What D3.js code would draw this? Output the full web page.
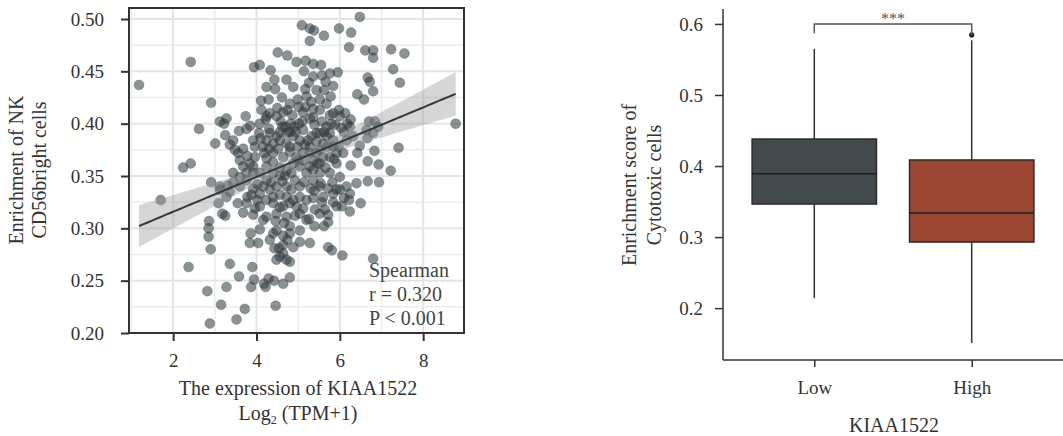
<!DOCTYPE html>
<html>
<head>
<meta charset="utf-8">
<script src="https://cdn.jsdelivr.net/npm/d3@7"></script>
<style>
  html, body { margin: 0; padding: 0; background: #fff; }
  svg { display: block; font-family: "Liberation Serif", "Times New Roman", serif; }
</style>
</head>
<body>
<svg id="chart" width="1063" height="436"></svg>
<script>
// ---- Scatter: KIAA1522 expression vs NK CD56bright enrichment ----
const scatterPoints = [
  [1.18,0.437],[1.70,0.327],[2.42,0.459],[2.62,0.395],[2.24,0.358],[2.42,0.362],[2.37,0.263],
  [2.91,0.420],[2.91,0.344],[3.01,0.381],[2.86,0.307],[2.85,0.300],[2.85,0.292],[2.90,0.280],
  [2.82,0.240],[2.88,0.209],[3.15,0.227],[3.36,0.266],[3.28,0.244],[3.52,0.213],[3.58,0.254],
  [3.72,0.223],[3.90,0.263],[3.87,0.244],[3.94,0.251],[4.18,0.247],[4.22,0.244],[4.29,0.252],
  [4.42,0.250],[4.64,0.247],[4.80,0.253],[4.46,0.226],[4.80,0.268],[4.64,0.276],[6.06,0.274],
  [6.80,0.271],[6.48,0.502],[5.09,0.494],[5.28,0.491],[5.38,0.489],[5.62,0.484],[5.98,0.491],
  [6.27,0.487],[5.28,0.479],[6.22,0.473],[6.61,0.470],[6.80,0.470],[6.80,0.463],[7.23,0.471],
  [7.55,0.467],[4.51,0.468],[4.74,0.465],[4.96,0.459],[5.18,0.460],[5.36,0.457],[5.55,0.456],
  [5.95,0.449],[7.28,0.452],[7.44,0.439],[3.94,0.454],[4.08,0.456],[4.34,0.451],[5.14,0.450],
  [4.43,0.442],[5.26,0.439],[5.57,0.446],[5.66,0.440],[4.24,0.435],[4.45,0.433],[5.17,0.433],
  [5.44,0.432],[5.62,0.432],[5.84,0.436],[6.67,0.444],[6.72,0.440],[6.80,0.431],[6.42,0.428],
  [6.58,0.423],[4.61,0.425],[5.78,0.426],[4.11,0.422],[4.29,0.423],[4.99,0.423],[5.31,0.421],
  [4.12,0.413],[4.50,0.415],[4.74,0.413],[4.86,0.408],[5.12,0.411],[5.36,0.414],[5.98,0.413],
  [6.13,0.410],[6.00,0.407],[4.24,0.407],[3.74,0.407],[3.12,0.402],[3.28,0.405],[3.22,0.400],
  [3.76,0.395],[3.58,0.393],[3.85,0.398],[4.22,0.404],[4.58,0.402],[4.70,0.397],[4.82,0.400],
  [4.91,0.397],[5.02,0.400],[5.12,0.394],[5.28,0.405],[5.39,0.399],[5.57,0.402],[5.68,0.397],
  [5.76,0.408],[5.89,0.399],[6.03,0.396],[6.18,0.400],[6.26,0.404],[6.70,0.402],[6.84,0.402],
  [6.92,0.397],[8.78,0.400],[7.41,0.377],[6.83,0.374],[6.93,0.361],[7.22,0.355],[6.94,0.344],
  [6.67,0.345],[6.66,0.386],[6.48,0.379],[6.42,0.372],[6.67,0.364],[6.26,0.360],[6.40,0.343],
  [6.50,0.324],[6.22,0.327],[6.24,0.316],[6.10,0.329],[6.00,0.337],[6.00,0.349],[5.82,0.344],
  [5.72,0.338],[5.54,0.343],[5.39,0.336],[5.84,0.325],[5.57,0.325],[5.36,0.329],[5.72,0.313],
  [5.72,0.306],[5.62,0.302],[5.39,0.302],[5.26,0.309],[5.12,0.319],[4.96,0.321],[5.04,0.314],
  [5.72,0.282],[5.81,0.279],[5.28,0.286],[5.04,0.287],[4.88,0.282],[4.74,0.289],[4.64,0.293],
  [4.48,0.298],[4.43,0.281],[4.54,0.281],[3.84,0.286],[4.04,0.286],[3.86,0.295],[4.46,0.307],
  [4.66,0.305],[4.80,0.302],[4.16,0.308],[4.24,0.311],[3.96,0.319],[4.02,0.327],[3.68,0.315],
  [3.18,0.314],[3.25,0.312],[3.09,0.324],[3.55,0.324],[3.78,0.330],[3.12,0.340],[3.31,0.341],
  [3.44,0.344],[3.36,0.335],[3.60,0.349],[3.76,0.346],[3.92,0.338],[4.08,0.333],[4.24,0.327],
  [4.32,0.337],[4.48,0.340],[4.56,0.332],[4.72,0.330],[4.84,0.337],[4.62,0.345],[4.24,0.346],
  [4.08,0.353],[3.92,0.359],[3.68,0.359],[3.60,0.365],[3.78,0.369],[3.96,0.368],[4.24,0.367],
  [4.40,0.363],[4.56,0.358],[4.72,0.355],[4.84,0.353],[5.04,0.359],[4.96,0.368],[4.80,0.373],
  [5.12,0.372],[5.28,0.378],[5.23,0.384],[5.44,0.383],[5.52,0.375],[5.60,0.368],[5.76,0.368],
  [5.52,0.362],[5.36,0.356],[5.76,0.353],[5.92,0.362],[5.84,0.378],[5.97,0.378],[6.08,0.372],
  [5.68,0.388],[5.84,0.384],[4.56,0.384],[4.40,0.381],[4.24,0.384],[4.16,0.378],[4.32,0.391],
  [4.06,0.391],[3.92,0.384],[3.44,0.384],[3.36,0.380],[3.25,0.389],[3.48,0.375],[3.68,0.376],
  [4.72,0.381],[4.88,0.388],[4.72,0.391],[4.56,0.392],[5.04,0.384],[4.80,0.378],[3.76,0.353],
  [3.60,0.340],[3.92,0.353],[4.40,0.353],[4.56,0.350],[5.04,0.340],[4.72,0.340],[4.80,0.324],
  [4.64,0.321],[4.48,0.314],[4.40,0.324],[4.08,0.321],[5.04,0.330],[5.20,0.327],[5.36,0.346],
  [5.52,0.353],[5.20,0.353],[5.52,0.391],[5.44,0.391],[5.76,0.391],[5.36,0.406],[5.52,0.413],
  [5.17,0.416],[5.01,0.416],[4.80,0.419],[4.64,0.411],[4.48,0.407],[4.32,0.410],[5.20,0.426],
  [5.52,0.423],[5.68,0.419],[5.84,0.410],[6.24,0.397],[6.32,0.388],[6.16,0.384],[6.80,0.391],
  [6.64,0.394],[4.72,0.442],[4.88,0.435],[5.36,0.445],[5.76,0.448],[5.00,0.365],[5.36,0.365],
  [5.52,0.340],[5.92,0.337],[6.16,0.340],[6.24,0.333],[3.12,0.337],[3.44,0.353],[3.28,0.330],
  [3.76,0.324],[3.92,0.313],[4.08,0.299],[4.40,0.295],[4.32,0.289],[4.80,0.295],[5.04,0.298],
  [5.20,0.308],[5.52,0.314],[5.64,0.318],[5.92,0.321],[6.05,0.321],[5.84,0.333],[4.72,0.270],
  [4.56,0.273],[4.48,0.270],[4.64,0.284],[4.80,0.392],[4.48,0.388],[4.40,0.372],[4.64,0.368],
  [5.12,0.365],[5.28,0.359],[5.60,0.381],[5.92,0.372],[4.16,0.340],[4.40,0.330],[4.88,0.327],
  [4.72,0.311],[3.84,0.362],[4.24,0.359],[4.88,0.362],[5.28,0.372],[5.44,0.372],[3.96,0.378],
  [4.08,0.400],[4.30,0.395],[4.62,0.397],[4.94,0.392],[5.10,0.402],[5.32,0.388],[5.62,0.392],
  [5.80,0.400],[4.18,0.372],[4.52,0.376],[4.98,0.378],[5.16,0.380],[5.46,0.362],[5.66,0.358],
  [5.86,0.366],[4.36,0.344],[4.68,0.350],[4.92,0.346],[5.14,0.344],[5.30,0.338],[4.02,0.342],
  [3.88,0.332],[4.56,0.320],[4.92,0.312],[5.40,0.318],[5.60,0.330],[4.30,0.376],[4.10,0.386],
  [5.70,0.378],[6.10,0.392],[3.56,0.372]
];
const scatterXTicks = [2, 4, 6, 8];
const scatterYTicks = [0.20, 0.25, 0.30, 0.35, 0.40, 0.45, 0.50];
const statLines = ["Spearman", "r = 0.320", "P < 0.001"];

// ---- Box plot: cytotoxic cell enrichment by KIAA1522 group ----
const groups = ["Low", "High"];
const whiskerLow = [0.214, 0.151];
const q1 = [0.3465, 0.293];
const median = [0.389, 0.334];
const q3 = [0.438, 0.4085];
const whiskerHigh = [0.565, 0.577];
const outliers = [[], [0.5845]];
const boxColors = ["#424a4e", "#9c4733"];
const boxYTicks = [0.2, 0.3, 0.4, 0.5, 0.6];
const signifLabel = "***";

const svg = d3.select("#chart");
const ink = "#333";

// ================= Left panel =================
const L = { left: 129, right: 464, top: 8, bottom: 333 };
const xS = d3.scaleLinear().domain([0.94, 8.98]).range([L.left, L.right]);
const yS = d3.scaleLinear().domain([0.20, 0.5105]).range([L.bottom, L.top]);

const gL = svg.append("g");
// minor grid
const minorX = d3.range(1, 10, 2).filter(v => xS(v) > L.left && xS(v) < L.right);
const minorY = d3.range(0.225, 0.51, 0.05);
gL.selectAll(".mx").data(minorX).join("line")
  .attr("x1", d => xS(d)).attr("x2", d => xS(d)).attr("y1", L.top).attr("y2", L.bottom)
  .attr("stroke", "#ececec").attr("stroke-width", 1.5);
gL.selectAll(".my").data(minorY).join("line")
  .attr("x1", L.left).attr("x2", L.right).attr("y1", d => yS(d)).attr("y2", d => yS(d))
  .attr("stroke", "#ececec").attr("stroke-width", 1.5);
// major grid
gL.selectAll(".gx").data(scatterXTicks).join("line")
  .attr("x1", d => xS(d)).attr("x2", d => xS(d)).attr("y1", L.top).attr("y2", L.bottom)
  .attr("stroke", "#e4e4e4").attr("stroke-width", 2);
gL.selectAll(".gy").data(scatterYTicks).join("line")
  .attr("x1", L.left).attr("x2", L.right).attr("y1", d => yS(d)).attr("y2", d => yS(d))
  .attr("stroke", "#e4e4e4").attr("stroke-width", 2);

// linear fit with 95% confidence band
const n = scatterPoints.length;
const mx = d3.mean(scatterPoints, d => d[0]);
const my = d3.mean(scatterPoints, d => d[1]);
const sxx = d3.sum(scatterPoints, d => (d[0] - mx) ** 2);
const sxy = d3.sum(scatterPoints, d => (d[0] - mx) * (d[1] - my));
const slope = sxy / sxx;
const intercept = my - slope * mx;
const rss = d3.sum(scatterPoints, d => (d[1] - (intercept + slope * d[0])) ** 2);
const sigma = Math.sqrt(rss / (n - 2));
const tCrit = 1.966;
const [xMin, xMax] = d3.extent(scatterPoints, d => d[0]);
const fitGrid = d3.range(0, 81).map(i => xMin + (xMax - xMin) * i / 80);
const band = fitGrid.map(x => {
  const yhat = intercept + slope * x;
  const se = sigma * Math.sqrt(1 / n + (x - mx) ** 2 / sxx);
  return { x, yhat, lo: yhat - tCrit * se, hi: yhat + tCrit * se };
});

// points
gL.append("g").selectAll("circle").data(scatterPoints).join("circle")
  .attr("cx", d => xS(d[0])).attr("cy", d => yS(d[1])).attr("r", 5)
  .attr("fill", "#2c383d").attr("fill-opacity", 0.55)
  .attr("stroke", "#2c383d").attr("stroke-opacity", 0.3).attr("stroke-width", 0.8);

gL.append("path").datum(band)
  .attr("d", d3.area().x(d => xS(d.x)).y0(d => yS(d.lo)).y1(d => yS(d.hi)))
  .attr("fill", "#999").attr("fill-opacity", 0.4);
gL.append("path").datum(band)
  .attr("d", d3.line().x(d => xS(d.x)).y(d => yS(d.yhat)))
  .attr("fill", "none").attr("stroke", "#2f3a3e").attr("stroke-width", 2);

// border
gL.append("rect").attr("x", L.left).attr("y", L.top)
  .attr("width", L.right - L.left).attr("height", L.bottom - L.top)
  .attr("fill", "none").attr("stroke", ink).attr("stroke-width", 2);

// axes
const axBottomL = gL.append("g").attr("transform", `translate(0,${L.bottom})`)
  .call(d3.axisBottom(xS).tickValues(scatterXTicks).tickSize(8).tickPadding(13).tickFormat(d3.format("d")));
const axLeftL = gL.append("g").attr("transform", `translate(${L.left},0)`)
  .call(d3.axisLeft(yS).tickValues(scatterYTicks).tickSize(8).tickPadding(17).tickFormat(d3.format(".2f")));
[axBottomL, axLeftL].forEach(a => {
  a.select(".domain").remove();
  a.selectAll(".tick line").attr("stroke", ink).attr("stroke-width", 2);
  a.selectAll(".tick text").attr("fill", ink).style("font-size", "19px")
    .style("font-family", "Liberation Serif, serif");
});

// stats text
gL.append("g").selectAll("text").data(statLines).join("text")
  .attr("x", 369).attr("y", (d, i) => 277 + i * 24)
  .attr("fill", "#444").style("font-size", "20px").text(d => d);

// axis titles
const xt = gL.append("text").attr("text-anchor", "middle").attr("fill", ink).style("font-size", "20px");
xt.append("tspan").attr("x", 298).attr("y", 395).text("The expression of KIAA1522");
const xt2 = gL.append("text").attr("text-anchor", "middle").attr("fill", ink).style("font-size", "20px")
  .attr("x", 298).attr("y", 420);
xt2.append("tspan").text("Log");
xt2.append("tspan").attr("dy", 4).style("font-size", "12px").text("2");
xt2.append("tspan").attr("dy", -4).text(" (TPM+1)");

const ytL = gL.append("text").attr("text-anchor", "middle").attr("fill", ink).style("font-size", "20px")
  .attr("transform", "translate(0,170) rotate(-90)");
ytL.append("tspan").attr("x", 0).attr("y", 23).text("Enrichment of NK");
ytL.append("tspan").attr("x", 0).attr("y", 46).text("CD56bright cells");

// ================= Right panel =================
const R = { left: 723, right: 1063, top: 9, bottom: 360 };
const xB = d3.scalePoint().domain(groups).range([R.left, R.right]).padding(0.58);
const yB = d3.scaleLinear().domain([0.127, 0.621]).range([R.bottom, R.top]);
const boxW = xB.step() * 0.79;

const gR = svg.append("g");
const boxData = groups.map((g, i) => ({
  g, lo: whiskerLow[i], q1: q1[i], med: median[i], q3: q3[i], hi: whiskerHigh[i],
  out: outliers[i], color: boxColors[i]
}));

const bx = gR.selectAll(".box").data(boxData).join("g");
bx.append("line").attr("x1", d => xB(d.g)).attr("x2", d => xB(d.g))
  .attr("y1", d => yB(d.hi)).attr("y2", d => yB(d.q3)).attr("stroke", ink).attr("stroke-width", 1.5);
bx.append("line").attr("x1", d => xB(d.g)).attr("x2", d => xB(d.g))
  .attr("y1", d => yB(d.q1)).attr("y2", d => yB(d.lo)).attr("stroke", ink).attr("stroke-width", 1.5);
bx.append("rect").attr("x", d => xB(d.g) - boxW / 2).attr("width", boxW)
  .attr("y", d => yB(d.q3)).attr("height", d => yB(d.q1) - yB(d.q3))
  .attr("fill", d => d.color).attr("stroke", "#2a2a2a").attr("stroke-width", 1.5);
bx.append("line").attr("x1", d => xB(d.g) - boxW / 2).attr("x2", d => xB(d.g) + boxW / 2)
  .attr("y1", d => yB(d.med)).attr("y2", d => yB(d.med)).attr("stroke", "#1e1e1e").attr("stroke-width", 1.5);
bx.selectAll(".out").data(d => d.out.map(v => ({ g: d.g, v }))).join("circle")
  .attr("cx", d => xB(d.g)).attr("cy", d => yB(d.v)).attr("r", 2.6).attr("fill", "#222");

// significance bracket
const bracketY = yB(0.6);
gR.append("path")
  .attr("d", `M${xB(groups[0])},${yB(0.587)} V${bracketY} H${xB(groups[1])} V${yB(0.5845)}`)
  .attr("fill", "none").attr("stroke", "#555").attr("stroke-width", 1.5);
gR.append("text").attr("x", (xB(groups[0]) + xB(groups[1])) / 2).attr("y", 24)
  .attr("text-anchor", "middle").attr("fill", "#555").style("font-size", "16px").text(signifLabel);

// axes
const axLeftR = gR.append("g").attr("transform", `translate(${R.left},0)`)
  .call(d3.axisLeft(yB).tickValues(boxYTicks).tickSize(8).tickPadding(12).tickFormat(d3.format(".1f")));
const axBottomR = gR.append("g").attr("transform", `translate(0,${R.bottom})`)
  .call(d3.axisBottom(xB).tickSize(7).tickPadding(14));
[axLeftR, axBottomR].forEach(a => {
  a.select(".domain").attr("stroke", ink).attr("stroke-width", 1.5);
  a.selectAll(".tick line").attr("stroke", ink).attr("stroke-width", 1.5);
  a.selectAll(".tick text").attr("fill", ink).style("font-size", "19px")
    .style("font-family", "Liberation Serif, serif");
});
axLeftR.select(".domain").attr("d", `M0,${R.top}V${R.bottom}`);
axBottomR.select(".domain").attr("d", `M${R.left},0H${R.right}`);

gR.append("text").attr("x", (R.left + R.right) / 2 + 1).attr("y", 432)
  .attr("text-anchor", "middle").attr("fill", ink).style("font-size", "20px").text("KIAA1522");

const ytR = gR.append("text").attr("text-anchor", "middle").attr("fill", ink).style("font-size", "20px")
  .attr("transform", "translate(0,185) rotate(-90)");
ytR.append("tspan").attr("x", 0).attr("y", 636).text("Enrichment score of");
ytR.append("tspan").attr("x", 0).attr("y", 661).text("Cytotoxic cells");
</script>
</body>
</html>
